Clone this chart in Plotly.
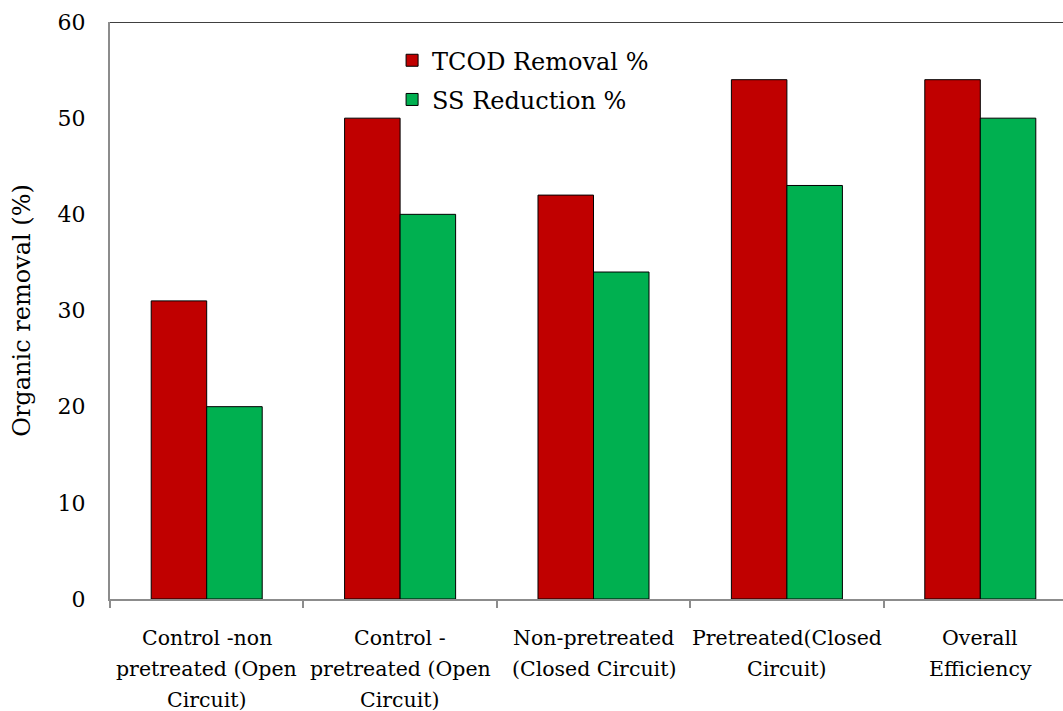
import plotly.graph_objects as go

# Treatment conditions (x categories) and their wrapped labels
categories = ["C1", "C2", "C3", "C4", "C5"]
tick_labels = [
    ["Control -non", "pretreated (Open", "Circuit)"],
    ["Control -", "pretreated (Open", "Circuit)"],
    ["Non-pretreated", "(Closed Circuit)"],
    ["Pretreated(Closed", "Circuit)"],
    ["Overall", "Efficiency"],
]

# Removal percentages per condition
tcod_removal = [31, 50, 42, 54, 54]
ss_reduction = [20, 40, 34, 43, 50]

FONT = "DejaVu Serif"
LABEL_SIZE = 20.5
LINE_GAP = 31      # px between label lines
FIRST_LINE = 39    # px from axis to the first label line centre

fig = go.Figure()
fig.add_trace(go.Bar(
    x=categories, y=tcod_removal, name="TCOD Removal %",
    marker=dict(color="#C00000", line=dict(color="#000000", width=1)),
    legendgroup="a",
))
fig.add_trace(go.Bar(
    x=categories, y=ss_reduction, name="SS Reduction %",
    marker=dict(color="#00B050", line=dict(color="#000000", width=1)),
    legendgroup="b",
))

# Frame line along the top of the plot area
fig.add_shape(type="line", xref="paper", yref="y", x0=0, x1=1, y0=60, y1=60,
              line=dict(color="#404040", width=2))

# Category labels, one annotation per text line, centred under each group
for cat, lines in zip(categories, tick_labels):
    for i, line in enumerate(lines):
        fig.add_annotation(
            x=cat, xref="x", y=0, yref="paper",
            yshift=-(FIRST_LINE + i * LINE_GAP), yanchor="middle",
            text=line, showarrow=False,
            font=dict(family=FONT, size=LABEL_SIZE, color="#000000"),
        )

fig.update_layout(
    width=1063, height=711,
    margin=dict(l=110, r=0, t=22, b=112, pad=0),
    paper_bgcolor="white", plot_bgcolor="white",
    barmode="group", bargap=0.426, bargroupgap=0,
    font=dict(family=FONT, color="#000000", size=22),
    showlegend=True,
    legend=dict(
        x=0.296, y=0.972, xanchor="left", yanchor="top",
        bgcolor="rgba(0,0,0,0)", font=dict(family=FONT, size=24),
        tracegroupgap=5, itemwidth=30,
    ),
    xaxis=dict(
        type="category",
        range=[-0.5, -0.5 + (1063 - 110) / 193.4],
        tickmode="array", tickvals=categories, showticklabels=False,
        tickson="boundaries", ticks="outside", ticklen=7, tickwidth=1.5,
        tickcolor="#8C8C8C",
        showline=True, linecolor="#8C8C8C", linewidth=2,
        showgrid=False, zeroline=False,
    ),
    yaxis=dict(
        range=[0, 60], tickmode="array", tickvals=[0, 10, 20, 30, 40, 50, 60],
        ticks="", showline=True, linecolor="#8C8C8C", linewidth=2,
        showgrid=False, zeroline=False,
        tickfont=dict(family=FONT, size=22),
        ticklabelstandoff=18,
        title=dict(text="Organic removal (%)", font=dict(family=FONT, size=24),
                   standoff=20),
    ),
)

fig.write_html("out.html")
